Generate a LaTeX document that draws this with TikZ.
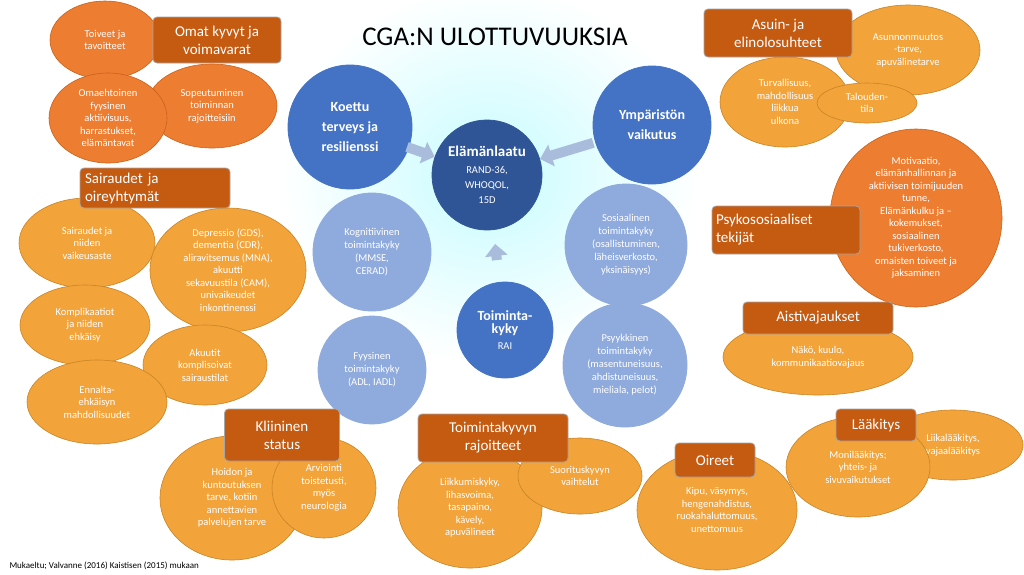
\documentclass[tikz,border=0pt]{standalone}
\usepackage{fontspec}
\setmainfont{Carlito}
\usetikzlibrary{shapes.geometric,arrows.meta}
\definecolor{gold}{HTML}{F2A33A}
\definecolor{goldd}{HTML}{C98424}
\definecolor{redor}{HTML}{ED7D31}
\definecolor{redord}{HTML}{C9621C}
\definecolor{boxc}{HTML}{C55A11}
\definecolor{dblue}{HTML}{2F5597}
\definecolor{mblue}{HTML}{4472C4}
\definecolor{lblue}{HTML}{8FAADC}
\definecolor{arr}{HTML}{A9BCDB}
\tikzset{
 oel/.style={ellipse,fill=gold,draw=goldd,line width=0.6pt,text=white,align=center,inner sep=0pt,font=\fontsize{10.5}{12.5}\selectfont},
 rel/.style={oel,fill=redor,draw=redord},
 obox/.style={rectangle,rounded corners=4pt,fill=boxc,draw=gray!70,line width=0.8pt,text=white,align=left,inner sep=0pt,font=\fontsize{15}{18}\selectfont},
 bcirc/.style={circle,fill=#1,draw=#1,line width=0.8pt,text=white,align=center,inner sep=0pt,font=\fontsize{10.5}{13}\selectfont},
 bigarr/.style={draw=arr,line width=10pt,-{Triangle[width=22pt,length=12pt]}}
}
\begin{document}
\begin{tikzpicture}[x=1pt,y=-1pt]
\fill[white] (0,0) rectangle (1024,574);
\useasboundingbox (0,0) rectangle (1024,574);
\shade[inner color=blue!6!cyan!22!white, outer color=white] (490,175) ellipse (210 and 190);
% top left
\node[rel,minimum width=110,minimum height=78] (toiv) at (105,40) {Toiveet ja\\tavoitteet};
\node[rel,minimum width=130,minimum height=84] (sop) at (212,106) {Sopeutuminen\\toiminnan\\rajoitteisiin};
\node[rel,minimum width=118,minimum height=90] (omae) at (108,118) {Omaehtoinen\\fyysinen\\aktiivisuus,\\harrastukset,\\elämäntavat};
\node[obox,minimum width=128,minimum height=46,align=center] (omat) at (217,40) {Omat kyvyt ja\\voimavarat};
\node[font=\fontsize{27}{30}\selectfont] (title) at (495,37) {CGA:N ULOTTUVUUKSIA};
% top right
\node[oel,minimum width=144,minimum height=90] (asun) at (908,50) {Asunnonmuutos\\-tarve,\\apuvälinetarve};
\node[oel,minimum width=130,minimum height=90] (turv) at (785,102) {Turvallisuus,\\mahdollisuus\\liikkua\\ulkona};
\node[oel,minimum width=100,minimum height=40] (talo) at (867,103) {Talouden-\\tila};
\node[obox,minimum width=148,minimum height=48,align=center] (asuin) at (778,33) {Asuin- ja\\elinolosuhteet};
% blue circles
\node[bcirc=mblue,minimum size=124,font=\bfseries\fontsize{14}{20}\selectfont] (koettu) at (350,127) {Koettu\\terveys ja\\resilienssi};
\node[bcirc=mblue,minimum size=118,font=\bfseries\fontsize{14}{20}\selectfont] (ymp) at (652,125) {Ympäristön\\vaikutus};
\node[bcirc=dblue,minimum size=110] (elama) at (487,175) {{\bfseries\fontsize{15}{18}\selectfont Elämänlaatu}\\[4pt]RAND-36,\\[2pt]WHOQOL,\\[2pt]15D};
\node[bcirc=lblue,minimum size=118] (kogn) at (372,252) {Kognitiivinen\\toimintakyky\\(MMSE,\\CERAD)};
\node[bcirc=lblue,minimum size=122] (sos) at (626,245) {Sosiaalinen\\toimintakyky\\(osallistuminen,\\läheisverkosto,\\yksinäisyys)};
\node[bcirc=mblue,minimum size=96] (toim) at (505,330) {{\bfseries\fontsize{14}{17}\selectfont Toiminta-}\\{\bfseries\fontsize{14}{17}\selectfont kyky}\\[3pt]RAI};
\node[bcirc=lblue,minimum size=108] (fyys) at (372,370) {Fyysinen\\toimintakyky\\(ADL, IADL)};
\node[bcirc=lblue,minimum size=124] (psyy) at (625,365) {Psyykkinen\\toimintakyky\\(masentuneisuus,\\ahdistuneisuus,\\mieliala, pelot)};
\draw[bigarr,shorten <=-2pt] (koettu) -- (elama);
\draw[bigarr,shorten <=2pt] (ymp) -- (elama);
\draw[bigarr,shorten <=22pt,shorten >=14pt] (toim) -- (elama);
% left cluster
\node[oel,minimum width=136,minimum height=90] (sair) at (87,243) {Sairaudet ja\\niiden\\vaikeusaste};
\node[oel,minimum width=156,minimum height=124] (depr) at (228,270) {Depressio (GDS),\\dementia (CDR),\\aliravitsemus (MNA),\\akuutti\\sekavuustila (CAM),\\univaikeudet\\inkontinenssi};
\node[oel,minimum width=130,minimum height=80] (komp) at (85,325) {Komplikaatiot\\ja niiden\\ehkäisy};
\node[oel,minimum width=124,minimum height=80] (akuu) at (205,365) {Akuutit\\komplisoivat\\sairaustilat};
\node[oel,minimum width=140,minimum height=84] (enna) at (97,402) {Ennalta-\\ehkäisyn\\mahdollisuudet};
\node[obox,minimum width=150,minimum height=40,text width=140] (sairbox) at (155,188) {Sairaudet ja\\oireyhtymät};
% right cluster
\node[rel,minimum width=172,minimum height=178] (moti) at (916,218) {Motivaatio,\\elämänhallinnan ja\\aktiivisen toimijuuden\\tunne,\\Elämänkulku ja –\\kokemukset,\\sosiaalinen\\tukiverkosto,\\omaisten toiveet ja\\jaksaminen};
\node[obox,minimum width=148,minimum height=48,text width=140] (psyk) at (786,230) {Psykososiaaliset\\tekijät};
\node[oel,minimum width=190,minimum height=76] (nako) at (818,357) {Näkö, kuulo,\\kommunikaatiovajaus};
\node[obox,minimum width=150,minimum height=32,align=center] (aist) at (818,318) {Aistivajaukset};
% bottom
\node[oel,minimum width=144,minimum height=124] (hoid) at (232,498) {Hoidon ja\\kuntoutuksen\\tarve, kotiin\\annettavien\\palvelujen tarve};
\node[oel,minimum width=104,minimum height=100] (arvi) at (324,488) {Arviointi\\toistetusti,\\myös\\neurologia};
\node[obox,minimum width=115,minimum height=52,align=center] (klin) at (282,435) {Kliininen\\status};
\node[oel,minimum width=144,minimum height=120] (liik) at (470,508) {Liikkumiskyky,\\lihasvoima,\\tasapaino,\\kävely,\\apuvälineet};
\node[oel,minimum width=124,minimum height=76] (suor) at (580,476) {Suorituskyvyn\\vaihtelut};
\node[obox,minimum width=150,minimum height=48,align=center] (rajo) at (493,438) {Toimintakyvyn\\rajoitteet};
\node[oel,minimum width=160,minimum height=120] (kipu) at (717,510) {Kipu, väsymys,\\hengenahdistus,\\ruokahaluttomuus,\\unettomuus};
\node[obox,minimum width=80,minimum height=34,align=center] (oire) at (715,460) {Oireet};
\node[oel,minimum width=140,minimum height=70] (liika) at (953,445) {Liikalääkitys,\\vajaalääkitys};
\node[oel,minimum width=144,minimum height=100] (moni) at (858,467) {Monilääkitys;\\yhteis- ja\\sivuvaikutukset};
\node[obox,minimum width=80,minimum height=32,align=center] (laak) at (876,425) {Lääkitys};
\node[anchor=west,font=\fontsize{9}{10}\selectfont] (foot) at (6,566) {Mukaeltu; Valvanne (2016) Kaistisen (2015) mukaan};
\end{tikzpicture}
\end{document}
